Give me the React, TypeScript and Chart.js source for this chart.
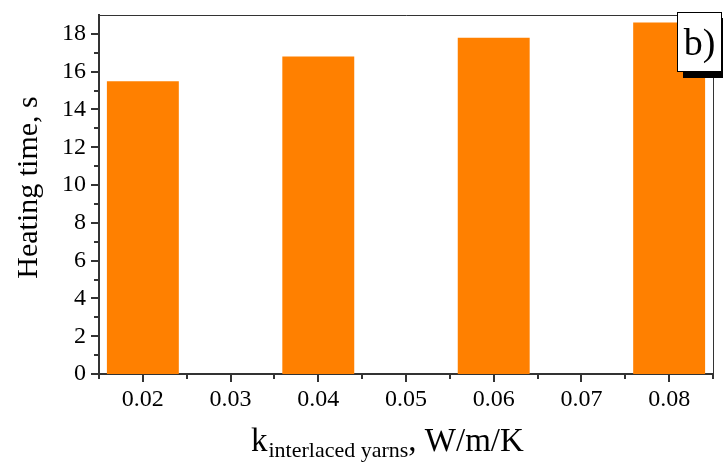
import React, { useEffect, useRef } from "react";
import { Chart, registerables } from "chart.js";

Chart.register(...registerables);

const categories = [0.02, 0.04, 0.06, 0.08];
const heatingTime = [15.5, 16.8, 17.8, 18.6];
const xMajorTicks = [0.02, 0.03, 0.04, 0.05, 0.06, 0.07, 0.08];
const xMinorTicks = [0.015, 0.025, 0.035, 0.045, 0.055, 0.065, 0.075, 0.085];
const yMajorTicks = [0, 2, 4, 6, 8, 10, 12, 14, 16, 18];
const yMinorTicks = [1, 3, 5, 7, 9, 11, 13, 15, 17];
const yTitle = "Heating time, s";
const xTitleMain = "k";
const xTitleSub = "interlaced yarns";
const xTitleUnit = ", W/m/K";
const panelLabel = "b)";

const SERIF = "'Liberation Serif', 'Times New Roman', serif";
const AXIS_COLOR = "#333333";

const decorPlugin = {
  id: "decor",
  afterDraw(chart: any) {
    const ctx = chart.ctx;
    const area = chart.chartArea;
    const xs = chart.scales.x;
    const ys = chart.scales.y;
    ctx.save();
    // frame top/right
    ctx.strokeStyle = AXIS_COLOR;
    ctx.lineWidth = 1;
    ctx.beginPath();
    ctx.moveTo(area.left, Math.round(area.top) + 0.5);
    ctx.lineTo(area.right + 0.5, Math.round(area.top) + 0.5);
    ctx.lineTo(area.right + 0.5, area.bottom);
    ctx.stroke();

    // ticks
    ctx.lineWidth = 2;
    ctx.beginPath();
    yMajorTicks.forEach((v) => {
      const y = Math.round(ys.getPixelForValue(v));
      ctx.moveTo(area.left, y);
      ctx.lineTo(area.left - 8, y);
    });
    yMinorTicks.forEach((v) => {
      const y = Math.round(ys.getPixelForValue(v));
      ctx.moveTo(area.left, y);
      ctx.lineTo(area.left - 5, y);
    });
    xMajorTicks.forEach((v) => {
      const x = Math.round(xs.getPixelForValue(v));
      ctx.moveTo(x, area.bottom);
      ctx.lineTo(x, area.bottom + 8);
    });
    xMinorTicks.forEach((v) => {
      const x = Math.round(xs.getPixelForValue(v));
      ctx.moveTo(x, area.bottom);
      ctx.lineTo(x, area.bottom + 5);
    });
    ctx.stroke();

    // y title
    ctx.fillStyle = "#000";
    ctx.font = `30px ${SERIF}`;
    ctx.textAlign = "center";
    ctx.textBaseline = "alphabetic";
    ctx.save();
    ctx.translate(37, (area.top + area.bottom) / 2 - 7);
    ctx.rotate(-Math.PI / 2);
    ctx.fillText(yTitle, 0, 0);
    ctx.restore();

    // x title with subscript
    ctx.textAlign = "left";
    let x = area.left + 152;
    const base = 451;
    ctx.font = `33px ${SERIF}`;
    ctx.fillText(xTitleMain, x, base);
    x += ctx.measureText(xTitleMain).width + 1;
    ctx.font = `22px ${SERIF}`;
    ctx.fillText(xTitleSub, x, base + 6);
    x += ctx.measureText(xTitleSub).width;
    ctx.font = `33px ${SERIF}`;
    ctx.fillText(xTitleUnit, x, base);

    // panel label box
    const bx = area.right - 36;
    const by = area.top - 3;
    const bw = 45;
    const bh = 60;
    ctx.fillStyle = "#000";
    ctx.fillRect(bx + 6, by + 6, bw, bh);
    ctx.fillStyle = "#fff";
    ctx.fillRect(bx, by, bw, bh);
    ctx.strokeStyle = "#000";
    ctx.lineWidth = 1;
    ctx.strokeRect(bx + 0.5, by + 0.5, bw - 1, bh - 1);
    ctx.fillStyle = "#000";
    ctx.font = `38px ${SERIF}`;
    ctx.textAlign = "center";
    ctx.fillText(panelLabel, bx + bw / 2, by + 43);
    ctx.restore();
  },
};

export default function App() {
  const ref = useRef<HTMLCanvasElement>(null);
  useEffect(() => {
    document.body.style.margin = "0";
    const canvas = ref.current!;
    const chart = new Chart(canvas, {
      type: "bar",
      data: {
        datasets: [
          {
            data: categories.map((c, i) => ({ x: c, y: heatingTime[i] })),
            backgroundColor: "#FF8000",
            borderWidth: 0,
            barPercentage: 0.82,
            categoryPercentage: 1,
          },
        ],
      },
      options: {
        responsive: false,
        animation: false,
        devicePixelRatio: 1,
        layout: { padding: { top: 15, right: 10, left: 0, bottom: 0 } },
        plugins: { legend: { display: false }, tooltip: { enabled: false } },
        scales: {
          x: {
            type: "linear",
            offset: false,
            min: 0.015,
            max: 0.085,
            afterBuildTicks: (s: any) => {
              s.ticks = xMajorTicks.map((v) => ({ value: v }));
            },
            afterFit: (s: any) => {
              s.height = 93;
              s.paddingLeft = 0;
              s.paddingRight = 0;
            },
            grid: { display: false, drawTicks: false, offset: false },
            border: { display: true, color: AXIS_COLOR, width: 2 },
            ticks: {
              padding: 11,
              maxRotation: 0,
              autoSkip: false,
              color: "#000",
              font: { family: SERIF, size: 24 },
              callback: (v: any) => Number(v).toFixed(2),
            },
          },
          y: {
            min: 0,
            max: 19,
            afterBuildTicks: (s: any) => {
              s.ticks = yMajorTicks.map((v) => ({ value: v }));
            },
            afterFit: (s: any) => {
              s.width = 99;
              s.paddingTop = 0;
              s.paddingBottom = 0;
            },
            grid: { display: false, drawTicks: false },
            border: { display: true, color: AXIS_COLOR, width: 2 },
            ticks: {
              padding: 13,
              autoSkip: false,
              color: "#000",
              font: { family: SERIF, size: 24 },
              callback: (v: any) => String(v),
            },
          },
        },
      },
      plugins: [decorPlugin],
    });
    return () => chart.destroy();
  }, []);
  return (
    <canvas
      ref={ref}
      width={723}
      height={467}
      style={{ display: "block", width: 723, height: 467 }}
    />
  );
}
